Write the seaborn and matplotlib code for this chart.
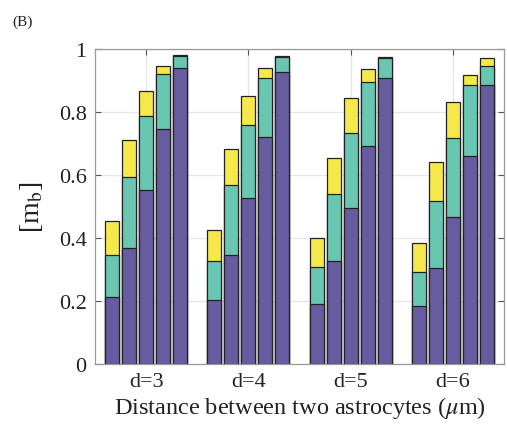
import numpy as np
import pandas as pd
import matplotlib
matplotlib.use("Agg")
import matplotlib.pyplot as plt
import seaborn as sns

# ---- data (segment heights) ----
groups = ["d=3", "d=4", "d=5", "d=6"]
bar_ids = [1, 2, 3, 4, 5]
purple = [[0.214, 0.368, 0.554, 0.747, 0.942],
          [0.204, 0.348, 0.527, 0.722, 0.929],
          [0.191, 0.326, 0.497, 0.692, 0.909],
          [0.183, 0.304, 0.468, 0.660, 0.888]]
teal = [[0.134, 0.228, 0.234, 0.175, 0.036],
        [0.124, 0.221, 0.234, 0.187, 0.046],
        [0.117, 0.213, 0.237, 0.204, 0.064],
        [0.109, 0.213, 0.249, 0.228, 0.059]]
yellow = [[0.108, 0.116, 0.080, 0.025, 0.003],
          [0.099, 0.113, 0.091, 0.033, 0.004],
          [0.092, 0.117, 0.111, 0.042, 0.002],
          [0.093, 0.124, 0.115, 0.032, 0.026]]
yticks = [0, 0.2, 0.4, 0.6, 0.8, 1]
ytick_labels = ["0", "0.2", "0.4", "0.6", "0.8", "1"]

c_purple = "#665c9f"
c_teal = "#69c6b1"
c_yellow = "#f5e84b"

sns.set_theme(style="white")
plt.rcParams["font.family"] = ["Liberation Serif", "DejaVu Serif"]
plt.rcParams["mathtext.fontset"] = "stix"

p = np.array(purple)
t = np.array(teal)
y = np.array(yellow)
rows = []
for gi, g in enumerate(groups):
    for bi, b in enumerate(bar_ids):
        rows.append({"group": g, "bar": b,
                     "l1": p[gi, bi],
                     "l2": p[gi, bi] + t[gi, bi],
                     "l3": p[gi, bi] + t[gi, bi] + y[gi, bi]})
df = pd.DataFrame(rows)

fig = plt.figure(figsize=(5.07, 4.31), dpi=100)
ax = fig.add_axes([0.1874, 0.153, 0.8066, 0.730])
ax.set_axisbelow(True)
ax.grid(True, axis="both", color="#e6e6e6", linewidth=0.9)

for col, colr in [("l3", c_yellow), ("l2", c_teal), ("l1", c_purple)]:
    sns.barplot(data=df, x="group", y=col, hue="bar", order=groups,
                palette=[colr] * len(bar_ids), width=0.83, gap=0.18,
                edgecolor="#222222", linewidth=0.9, legend=False,
                errorbar=None, ax=ax, saturation=1)

ax.set_xlim(-0.5, 3.5)
ax.set_ylim(0, 1)
ax.set_yticks(yticks)
ax.set_yticklabels(ytick_labels)
ax.xaxis.grid(True, color="#e6e6e6", linewidth=0.9)
ax.tick_params(axis="both", direction="in", length=4, width=0.8,
               color="#555555", labelsize=16, top=True, right=True,
               left=True, bottom=True, labelcolor="#222222", pad=6)
for s in ax.spines.values():
    s.set_color("#999999")
    s.set_linewidth(0.9)
ax.set_xlabel(r"Distance between two astrocytes ($\mu$m)", fontsize=17.5,
              color="#222222", labelpad=2)
ax.set_ylabel(r"[m$_{\mathrm{b}}$]", fontsize=20, color="#222222", labelpad=10)
fig.text(0.024, 0.965, "(B)", fontsize=11, va="top", ha="left", color="#222222")

fig.savefig("out.png", dpi=100)
